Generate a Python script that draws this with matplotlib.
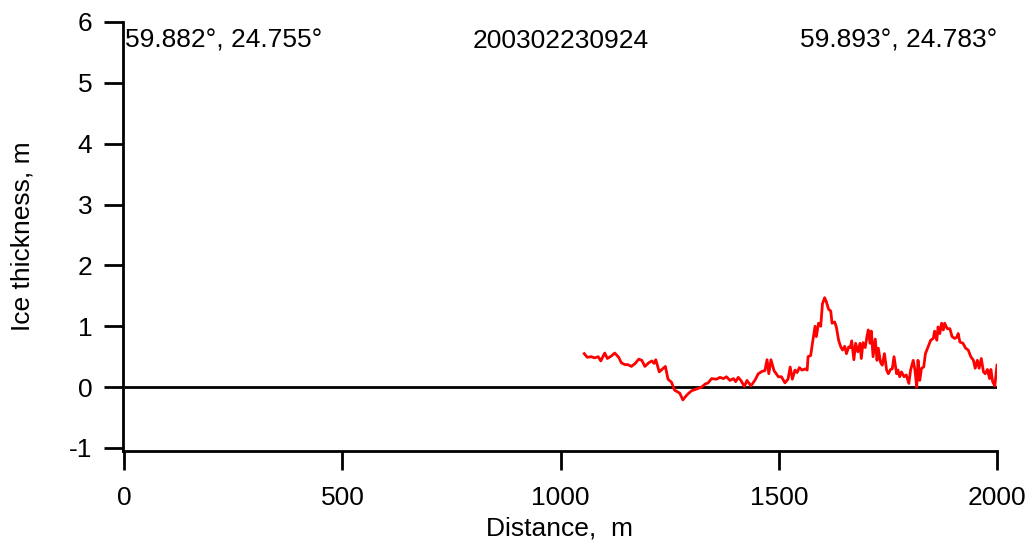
import matplotlib
matplotlib.use("Agg")
import matplotlib.pyplot as plt

plt.rcParams['font.family'] = ['Liberation Sans', 'DejaVu Sans']

distance = [1054, 1061, 1070, 1078, 1086, 1092, 1101, 1107, 1116, 1124, 1133, 1139, 1147, 1154,
            1162, 1171, 1179, 1186, 1193, 1202, 1209, 1214, 1218, 1226, 1232, 1240, 1246, 1254,
            1261, 1273, 1280, 1288, 1292, 1300, 1312, 1323, 1331, 1338, 1346, 1357, 1365, 1373,
            1380, 1388, 1396, 1401, 1407, 1413, 1421, 1427, 1436, 1445, 1453, 1462, 1468, 1473,
            1477, 1482, 1489, 1499, 1506, 1514, 1521, 1526, 1531, 1537, 1542, 1547, 1553, 1561,
            1565, 1567, 1573, 1577, 1583, 1586, 1591, 1596, 1600, 1605, 1609, 1614, 1619, 1622,
            1628, 1632, 1637, 1642, 1646, 1651, 1655, 1660, 1664, 1667, 1672, 1676, 1681, 1686,
            1689, 1693, 1698, 1702, 1705, 1709, 1712, 1716, 1721, 1725, 1728, 1733, 1737, 1742,
            1747, 1751, 1756, 1760, 1764, 1770, 1773, 1777, 1781, 1787, 1792, 1798, 1802, 1808,
            1812, 1816, 1819, 1823, 1827, 1832, 1836, 1842, 1848, 1854, 1857, 1862, 1865, 1869,
            1873, 1877, 1880, 1886, 1892, 1897, 1903, 1908, 1911, 1915, 1922, 1928, 1934, 1940,
            1946, 1950, 1955, 1959, 1964, 1969, 1973, 1978, 1983, 1986, 1990, 1995, 2000]
thickness = [0.55, 0.49, 0.50, 0.48, 0.50, 0.43, 0.56, 0.47, 0.51, 0.56, 0.49, 0.40, 0.37, 0.37,
             0.34, 0.39, 0.46, 0.44, 0.34, 0.40, 0.43, 0.39, 0.45, 0.25, 0.29, 0.34, 0.13, 0.08,
             -0.05, -0.10, -0.21, -0.14, -0.11, -0.06, -0.03, 0.00, 0.05, 0.07, 0.14, 0.13, 0.16, 0.14,
             0.17, 0.11, 0.14, 0.09, 0.16, 0.11, 0.01, 0.11, 0.02, 0.11, 0.22, 0.26, 0.27, 0.45,
             0.22, 0.45, 0.27, 0.17, 0.17, 0.07, 0.13, 0.33, 0.13, 0.28, 0.24, 0.32, 0.28, 0.30,
             0.28, 0.50, 0.52, 0.72, 1.00, 0.83, 1.05, 1.00, 1.37, 1.47, 1.40, 1.28, 1.25, 1.05,
             1.07, 0.98, 0.77, 0.66, 0.61, 0.67, 0.55, 0.66, 0.65, 0.76, 0.45, 0.72, 0.58, 0.72,
             0.47, 0.73, 0.65, 0.83, 0.94, 0.72, 0.92, 0.50, 0.79, 0.44, 0.64, 0.41, 0.36, 0.55,
             0.28, 0.22, 0.29, 0.30, 0.50, 0.22, 0.28, 0.17, 0.25, 0.17, 0.20, 0.06, 0.28, 0.44,
             0.28, 0.00, 0.44, 0.11, 0.31, 0.33, 0.55, 0.66, 0.77, 0.80, 0.92, 0.77, 0.99, 0.88,
             1.05, 0.94, 1.05, 0.96, 0.96, 0.83, 0.80, 0.82, 0.88, 0.74, 0.72, 0.64, 0.61, 0.50,
             0.44, 0.31, 0.44, 0.31, 0.47, 0.25, 0.22, 0.29, 0.14, 0.29, 0.09, 0.02, 0.36]

x_ticks = [0, 500, 1000, 1500, 2000]
y_ticks = [-1, 0, 1, 2, 3, 4, 5, 6]
start_label = "59.882°, 24.755°"
end_label = "59.893°, 24.783°"
title_label = "200302230924"
x_label = "Distance,  m"
y_label = "Ice thickness, m"

FS = 19
LW = 2.0
fig = plt.figure(figsize=(10.32, 5.49), dpi=100)
ax = fig.add_axes([123/1032, 1 - 451/549, (997 - 123)/1032, (451 - 22)/549])

ax.hlines(0, x_ticks[0], x_ticks[-1], color='black', lw=LW)
ax.plot(distance, thickness, color='#ff0000', lw=LW)

ax.set_xlim(-3, 2000)
ax.set_ylim(-1.05, 6)
ax.set_xticks(x_ticks)
ax.set_yticks(y_ticks)
ax.set_yticklabels([str(v) for v in y_ticks])
ax.spines['top'].set_visible(False)
ax.spines['right'].set_visible(False)
for s in ('left', 'bottom'):
    ax.spines[s].set_linewidth(LW)
ax.tick_params(axis='both', direction='out', length=14, width=LW, labelsize=FS, color='black')
ax.tick_params(axis='x', pad=11)
ax.tick_params(axis='y', pad=8)

ax.set_xlabel(x_label, fontsize=FS, labelpad=5)
ax.set_ylabel(y_label, fontsize=FS, labelpad=25)

ax.text(2, 5.58, start_label, fontsize=FS, ha='left', va='baseline')
ax.text(1000, 5.58, title_label, fontsize=FS, ha='center', va='baseline')
ax.text(2000, 5.58, end_label, fontsize=FS, ha='right', va='baseline')

fig.savefig('out.png', dpi=100)
